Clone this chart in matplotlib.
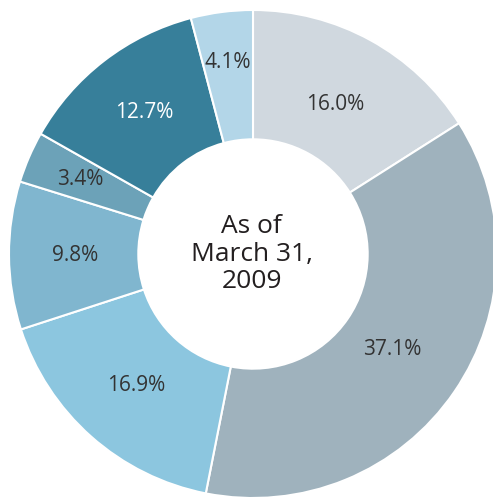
import numpy as np
import matplotlib.pyplot as plt

# Portfolio shares, clockwise from 12 o'clock
shares = [16.0, 37.1, 16.9, 9.8, 3.4, 12.7, 4.1]
colors = ["#d0d8df", "#9fb2bd", "#8cc6df", "#80b6cf", "#6ca2b8", "#377f9a", "#b3d6e8"]
text_colors = ["#333333", "#333333", "#333333", "#333333", "#333333", "#ffffff", "#333333"]
label_radius = [0.70, 0.69, 0.72, 0.73, 0.77, 0.73, 0.79]
center_label = "As of\nMarch 31,\n2009"

plt.rcParams["font.family"] = ["Open Sans", "DejaVu Sans"]

fig = plt.figure(figsize=(4.93, 4.97), dpi=100)
ax = fig.add_axes([0, 0, 1, 1])

wedges, _ = ax.pie(
    shares,
    colors=colors,
    startangle=90,
    counterclock=False,
    radius=1.0,
    wedgeprops=dict(width=0.53, edgecolor="white", linewidth=1.5),
)

# percentage labels at the middle angle of each wedge
for w, v, c, r in zip(wedges, shares, text_colors, label_radius):
    mid = np.deg2rad((w.theta1 + w.theta2) / 2)
    ax.text(r * np.cos(mid), r * np.sin(mid), f"{v:.1f}%", ha="center", va="center",
            fontsize=15, color=c)

ax.text(-0.005, 0.0, center_label, ha="center", va="center",
        fontsize=19, color="#231f20", linespacing=1.12)

ax.set_xlim(-253 / 244, (493 - 253) / 244)
ax.set_ylim(-(497 - 254) / 244, 254 / 244)
ax.set_aspect("equal")
ax.axis("off")

fig.savefig("out.png", dpi=100, facecolor="white")
